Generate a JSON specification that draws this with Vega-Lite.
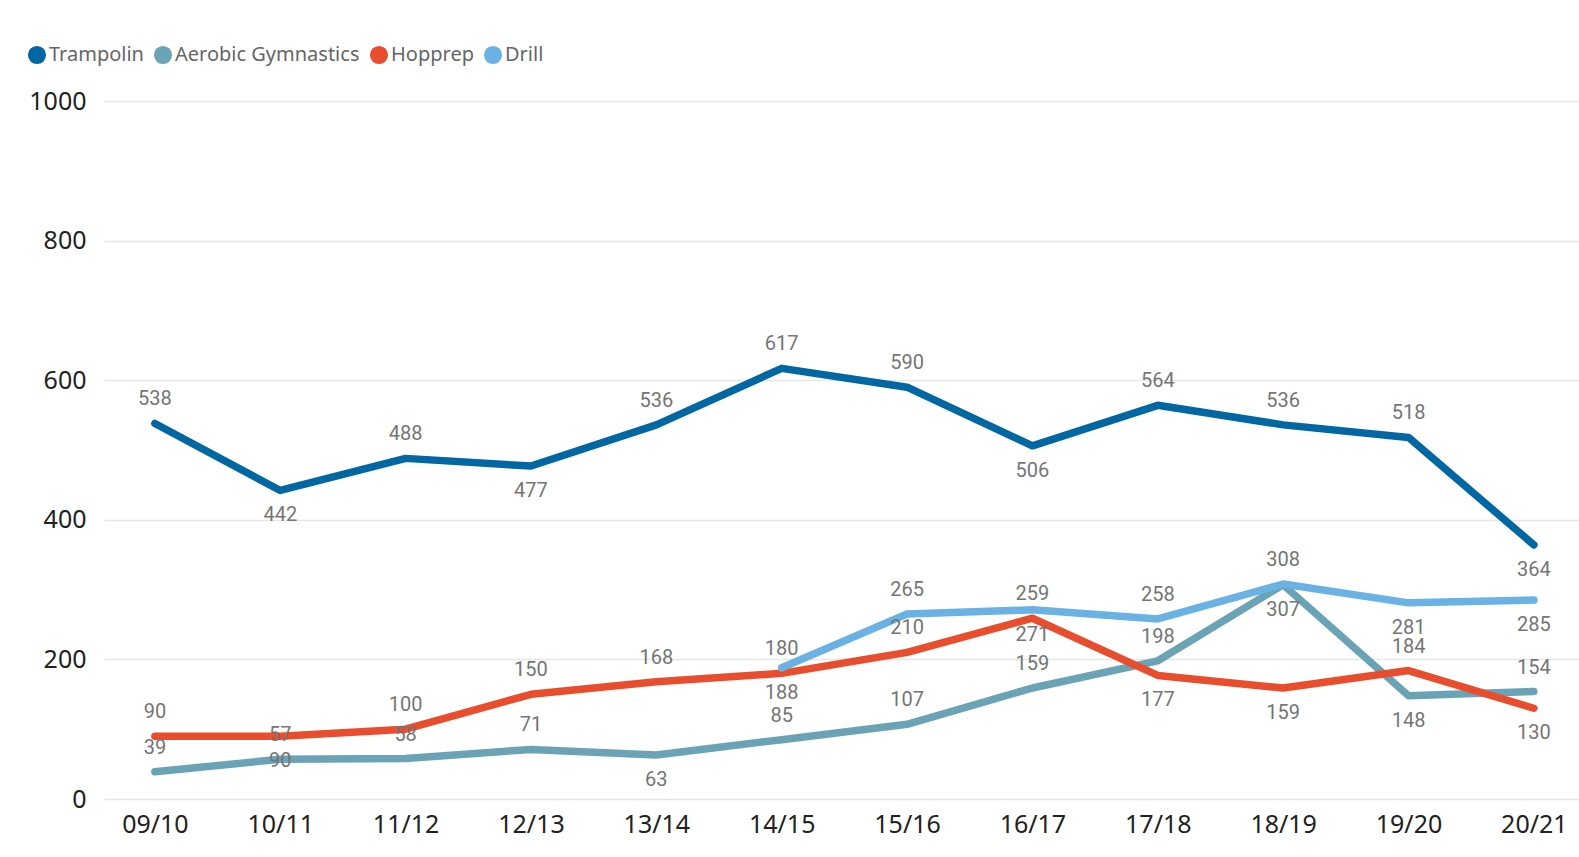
{
  "$schema": "https://vega.github.io/schema/vega-lite/v6.json",
  "autosize": "none",
  "width": 1475,
  "height": 698,
  "padding": {"left": 104, "top": 101, "right": 0, "bottom": 58},
  "background": "white",
  "data": {
    "values": [
      {"season": "09/10", "series": "Trampolin", "value": 538},
      {"season": "10/11", "series": "Trampolin", "value": 442},
      {"season": "11/12", "series": "Trampolin", "value": 488},
      {"season": "12/13", "series": "Trampolin", "value": 477},
      {"season": "13/14", "series": "Trampolin", "value": 536},
      {"season": "14/15", "series": "Trampolin", "value": 617},
      {"season": "15/16", "series": "Trampolin", "value": 590},
      {"season": "16/17", "series": "Trampolin", "value": 506},
      {"season": "17/18", "series": "Trampolin", "value": 564},
      {"season": "18/19", "series": "Trampolin", "value": 536},
      {"season": "19/20", "series": "Trampolin", "value": 518},
      {"season": "20/21", "series": "Trampolin", "value": 364},
      {"season": "09/10", "series": "Aerobic Gymnastics", "value": 39},
      {"season": "10/11", "series": "Aerobic Gymnastics", "value": 57},
      {"season": "11/12", "series": "Aerobic Gymnastics", "value": 58},
      {"season": "12/13", "series": "Aerobic Gymnastics", "value": 71},
      {"season": "13/14", "series": "Aerobic Gymnastics", "value": 63},
      {"season": "14/15", "series": "Aerobic Gymnastics", "value": 85},
      {"season": "15/16", "series": "Aerobic Gymnastics", "value": 107},
      {"season": "16/17", "series": "Aerobic Gymnastics", "value": 159},
      {"season": "17/18", "series": "Aerobic Gymnastics", "value": 198},
      {"season": "18/19", "series": "Aerobic Gymnastics", "value": 307},
      {"season": "19/20", "series": "Aerobic Gymnastics", "value": 148},
      {"season": "20/21", "series": "Aerobic Gymnastics", "value": 154},
      {"season": "09/10", "series": "Hopprep", "value": 90},
      {"season": "10/11", "series": "Hopprep", "value": 90},
      {"season": "11/12", "series": "Hopprep", "value": 100},
      {"season": "12/13", "series": "Hopprep", "value": 150},
      {"season": "13/14", "series": "Hopprep", "value": 168},
      {"season": "14/15", "series": "Hopprep", "value": 180},
      {"season": "15/16", "series": "Hopprep", "value": 210},
      {"season": "16/17", "series": "Hopprep", "value": 259},
      {"season": "17/18", "series": "Hopprep", "value": 177},
      {"season": "18/19", "series": "Hopprep", "value": 159},
      {"season": "19/20", "series": "Hopprep", "value": 184},
      {"season": "20/21", "series": "Hopprep", "value": 130},
      {"season": "14/15", "series": "Drill", "value": 188},
      {"season": "15/16", "series": "Drill", "value": 265},
      {"season": "16/17", "series": "Drill", "value": 271},
      {"season": "17/18", "series": "Drill", "value": 258},
      {"season": "18/19", "series": "Drill", "value": 308},
      {"season": "19/20", "series": "Drill", "value": 281},
      {"season": "20/21", "series": "Drill", "value": 285}
    ]
  },
  "encoding": {
    "x": {
      "field": "season",
      "type": "ordinal",
      "scale": {"type": "point", "padding": 0.383, "align": 0.53},
      "axis": {
        "title": null,
        "domain": false,
        "ticks": false,
        "labelAngle": 0,
        "labelFont": "Noto Sans",
        "labelFontSize": 25,
        "labelColor": "#222222",
        "labelPadding": 13,
        "grid": false
      }
    },
    "y": {
      "field": "value",
      "type": "quantitative",
      "scale": {"domain": [0, 1000], "nice": false},
      "axis": {
        "title": null,
        "domain": false,
        "ticks": false,
        "values": [0, 200, 400, 600, 800, 1000],
        "format": "d",
        "labelFont": "Noto Sans",
        "labelFontSize": 25,
        "labelColor": "#222222",
        "labelPadding": 18,
        "gridColor": "#e6e6e6",
        "gridWidth": 1.5
      }
    }
  },
  "layer": [
    {
      "mark": {"type": "line", "strokeWidth": 7.5, "strokeCap": "round", "strokeJoin": "round"},
      "encoding": {
        "color": {
          "field": "series",
          "type": "nominal",
          "scale": {
            "domain": ["Trampolin", "Aerobic Gymnastics", "Hopprep", "Drill"],
            "range": ["#0167a3", "#6aa3b6", "#e84d2d", "#6ab2e3"]
          },
          "legend": {
            "title": null,
            "orient": "none",
            "direction": "horizontal",
            "legendX": -77,
            "legendY": -56,
            "symbolType": "circle",
            "symbolSize": 330,
            "symbolStrokeWidth": 0,
            "labelFont": "Noto Sans",
            "labelFontSize": 20,
            "labelColor": "#666666",
            "labelOffset": 2,
            "labelLimit": 400,
            "columnPadding": 9,
            "padding": 0,
            "encode": {
              "symbols": {"update": {"fill": {"scale": "color", "field": "value"}, "fillOpacity": {"value": 1}}}
            }
          }
        },
        "detail": {"field": "series"}
      }
    },
    {
      "transform": [
        {"filter": "indexof(['Trampolin|10/11','Trampolin|12/13','Trampolin|16/17','Trampolin|20/21','Hopprep|10/11','Hopprep|17/18','Hopprep|18/19','Hopprep|20/21','Aerobic Gymnastics|13/14','Aerobic Gymnastics|18/19','Aerobic Gymnastics|19/20','Drill|14/15','Drill|16/17','Drill|19/20','Drill|20/21'], datum.series + '|' + datum.season) < 0"}
      ],
      "mark": {"type": "text", "dy": -24, "font": "Roboto", "fontSize": 20, "color": "#757575", "baseline": "middle"},
      "encoding": {"text": {"field": "value", "type": "quantitative"}}
    },
    {
      "transform": [
        {"filter": "indexof(['Trampolin|10/11','Trampolin|12/13','Trampolin|16/17','Trampolin|20/21','Hopprep|10/11','Hopprep|17/18','Hopprep|18/19','Hopprep|20/21','Aerobic Gymnastics|13/14','Aerobic Gymnastics|18/19','Aerobic Gymnastics|19/20','Drill|14/15','Drill|16/17','Drill|19/20','Drill|20/21'], datum.series + '|' + datum.season) >= 0"}
      ],
      "mark": {"type": "text", "dy": 25, "font": "Roboto", "fontSize": 20, "color": "#757575", "baseline": "middle"},
      "encoding": {"text": {"field": "value", "type": "quantitative"}}
    }
  ],
  "config": {
    "view": {"stroke": null}
  }
}
